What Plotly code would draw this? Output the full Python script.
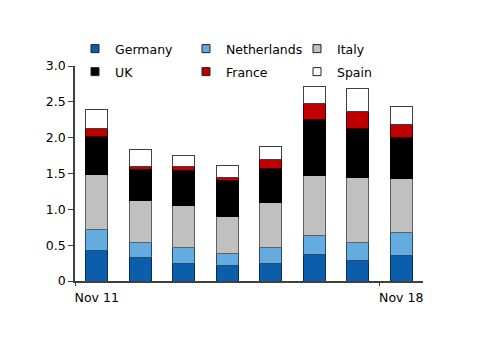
import plotly.graph_objects as go

categories = ["Nov 11", "Nov 12", "Nov 13", "Nov 14", "Nov 15", "Nov 16", "Nov 17", "Nov 18"]
germany = [0.43, 0.33, 0.25, 0.21, 0.25, 0.37, 0.28, 0.36]
netherlands = [0.29, 0.21, 0.22, 0.18, 0.22, 0.26, 0.26, 0.31]
italy = [0.76, 0.58, 0.59, 0.51, 0.63, 0.84, 0.90, 0.76]
uk = [0.54, 0.44, 0.48, 0.50, 0.47, 0.78, 0.69, 0.57]
france = [0.11, 0.04, 0.06, 0.05, 0.12, 0.22, 0.23, 0.19]
spain = [0.26, 0.24, 0.15, 0.16, 0.18, 0.25, 0.32, 0.24]

series = [
    ("Germany", germany, "#0A5EAC", "#0A2A5C", "legend"),
    ("Netherlands", netherlands, "#64ACE0", "#2A4A6A", "legend"),
    ("Italy", italy, "#C0C0C0", "#606060", "legend"),
    ("UK", uk, "#000000", "#000000", "legend2"),
    ("France", france, "#C00000", "#400000", "legend2"),
    ("Spain", spain, "#FFFFFF", "#404040", "legend2"),
]
shown_ticks = [categories[0], categories[-1]]
boundary_ticks = [-0.5, 6.5]

FONT = "DejaVu Sans"
fig = go.Figure()
for name, vals, col, line, lg in series:
    fig.add_trace(go.Bar(x=categories, y=vals, name=name, marker=dict(color=col, line=dict(color=line, width=1)),
                         showlegend=False))
for name, vals, col, line, lg in series:
    fig.add_trace(go.Scatter(x=[None], y=[None], mode="markers", name=name, xaxis="x2", legend=lg,
                             marker=dict(symbol="square", size=8, color=col, line=dict(color="#202020", width=1))))

leg_common = dict(orientation="h", x=0, xanchor="left", yanchor="middle",
                  entrywidth=66, tracegroupgap=0, itemwidth=30, traceorder="normal",
                  font=dict(family=FONT, size=12.5), bgcolor="rgba(0,0,0,0)")
fig.update_layout(
    width=500, height=353,
    margin=dict(l=75, r=77, t=66, b=72, autoexpand=False),
    paper_bgcolor="white", plot_bgcolor="white",
    barmode="stack", bargap=0.5,
    font=dict(family=FONT, size=12.5, color="#000000"),
    legend=dict(y=1 + 17 / 215, **leg_common),
    legend2=dict(y=1 - 6 / 215, **leg_common),
    xaxis=dict(type="category", range=[-0.5, 7.5], tickvals=shown_ticks, ticks="", showline=True,
               linecolor="#404040", linewidth=1.5, showgrid=False, zeroline=False, ticklabelstandoff=4,
               tickfont=dict(family=FONT, size=12.5)),
    xaxis2=dict(overlaying="x", anchor="y", side="bottom", range=[-0.5, 7.5], tickvals=boundary_ticks,
                ticks="outside", ticklen=4, tickcolor="#404040", tickwidth=1, showticklabels=False,
                showline=False, showgrid=False, zeroline=False),
    yaxis=dict(range=[0, 3.0], tickvals=[0, 0.5, 1.0, 1.5, 2.0, 2.5, 3.0],
               ticktext=["0", "0.5", "1.0", "1.5", "2.0", "2.5", "3.0"], ticks="outside", ticklen=5,
               tickcolor="#404040", showline=True, linecolor="#404040", linewidth=1.5, showgrid=False,
               zeroline=False, tickfont=dict(family=FONT, size=12.5)),
)
fig.write_html("out.html")
